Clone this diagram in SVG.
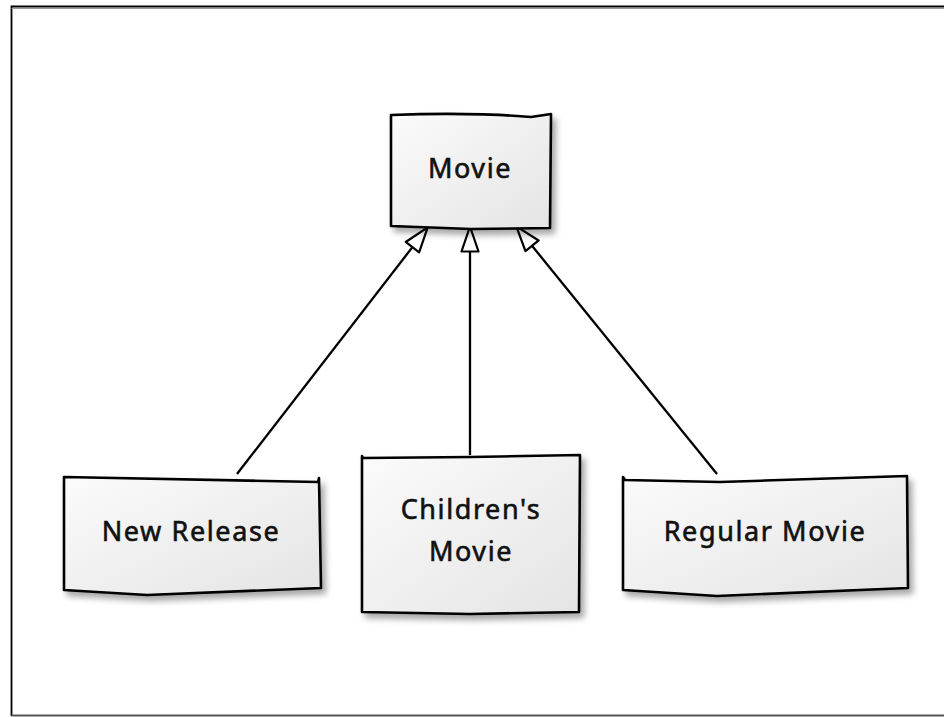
<svg xmlns="http://www.w3.org/2000/svg" width="944" height="717" viewBox="0 0 944 717">
  <defs>
    <linearGradient id="boxFill" x1="0" y1="0" x2="1" y2="1">
      <stop offset="0" stop-color="#fbfbfb"/>
      <stop offset="1" stop-color="#e4e4e4"/>
    </linearGradient>
    <filter id="shadow" x="-10%" y="-10%" width="125%" height="130%">
      <feGaussianBlur in="SourceAlpha" stdDeviation="3"/>
      <feOffset dx="4" dy="5" result="blur"/>
      <feComponentTransfer><feFuncA type="linear" slope="0.35"/></feComponentTransfer>
      <feMerge><feMergeNode/><feMergeNode in="SourceGraphic"/></feMerge>
    </filter>
    <marker id="hollowTri" viewBox="0 0 28 20" refX="27" refY="10" markerWidth="28" markerHeight="20" markerUnits="userSpaceOnUse" orient="auto">
      <path d="M1.5,1.5 L26.5,10 L1.5,18.5 Z" fill="#fff" stroke="#000" stroke-width="2.2" stroke-linejoin="round"/>
    </marker>
  </defs>
  <style>
    .box { fill: url(#boxFill); stroke: #000; stroke-width: 2.6; stroke-linejoin: round; filter: url(#shadow); }
    .label { font-family: "Noto Sans", "DejaVu Sans", sans-serif; font-size: 27px; fill: #111; stroke: #111; stroke-width: 0.6; text-anchor: middle; letter-spacing: 1.6px; }
    .edge { fill: none; stroke: #000; stroke-width: 2.3; marker-end: url(#hollowTri); }
  </style>

  <rect width="944" height="717" fill="#fff"/>
  <!-- page frame -->
  <path d="M11.5,716 L11.5,6.5 L950,6.5" fill="none" stroke="#000" stroke-width="1.8"/>
  <path d="M11.5,8.5 L950,8.5" fill="none" stroke="#999" stroke-width="1"/>
  <path d="M11.5,715.5 L950,715.5" fill="none" stroke="#555" stroke-width="1.8"/>

  <g id="edges">
    <path class="edge" d="M237,474 L428,227"/>
    <path class="edge" d="M470,455 L470,226"/>
    <path class="edge" d="M717,474 L516,226"/>
  </g>

  <g id="movie">
    <path class="box" d="M391,115 Q470,112 531,117 L551,114 L550,228 L471,229 L391,226 Z"/>
    <text class="label" x="470" y="178">Movie</text>
  </g>

  <g id="new-release">
    <path class="box" d="M64,477 L318,482 L319,478 L321,588 L147,595 L64,590 Z"/>
    <text class="label" x="191" y="541">New Release</text>
  </g>

  <g id="childrens-movie">
    <path class="box" d="M362,456 L363,458 L470,457 L580,455 L579,612 L470,614 L362,612 Z"/>
    <text class="label" x="471" y="519">Children's</text>
    <text class="label" x="471" y="561">Movie</text>
  </g>

  <g id="regular-movie">
    <path class="box" d="M623,477 L625,480 L720,482 L907,476 L908,588 L717,596 L623,590 Z"/>
    <text class="label" x="765" y="541">Regular Movie</text>
  </g>
</svg>
